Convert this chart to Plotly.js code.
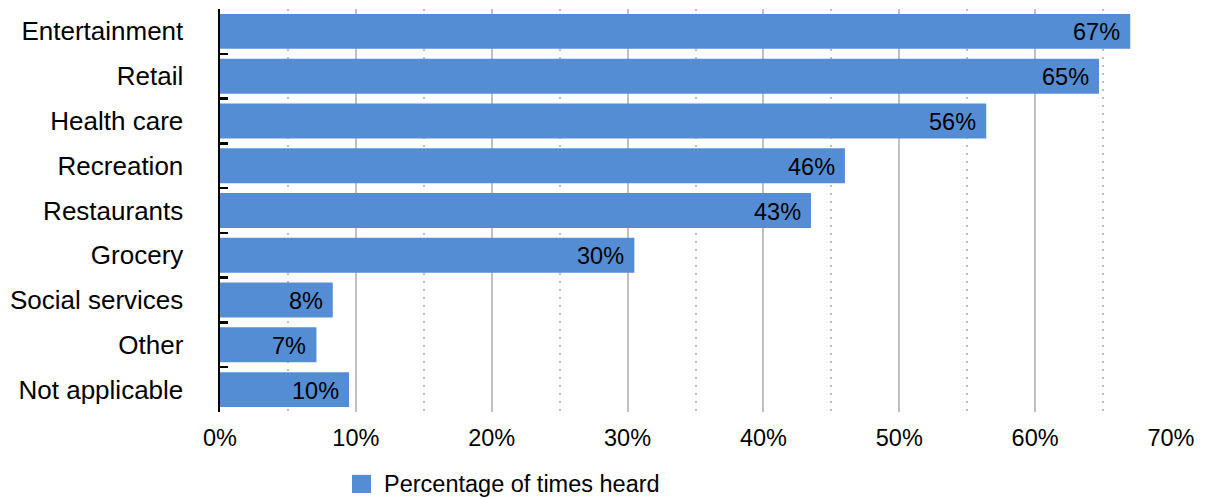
<!DOCTYPE html>
<html>
<head>
<meta charset="utf-8">
<script src="https://cdn.plot.ly/plotly-3.0.1.min.js"></script>
<style>html,body{margin:0;padding:0;background:#fff;}#chart{width:1207px;height:499px;}</style>
</head>
<body>
<div id="chart"></div>
<script>
const categories = ["Entertainment", "Retail", "Health care", "Recreation", "Restaurants", "Grocery", "Social services", "Other", "Not applicable"];
const values = [67.0, 64.7, 56.4, 46.0, 43.5, 30.5, 8.3, 7.1, 9.5];
const valueLabels = ["67%", "65%", "56%", "46%", "43%", "30%", "8%", "7%", "10%"];
const xTickVals = [0, 10, 20, 30, 40, 50, 60, 70];
const xTickText = ["0%", "10%", "20%", "30%", "40%", "50%", "60%", "70%"];
const seriesName = "Percentage of times heard";

const barColor = "#548dd4";
const fontFamily = "'Liberation Sans', Arial, sans-serif";

const trace = {
  type: "bar",
  orientation: "h",
  y: categories,
  x: values,
  name: seriesName,
  marker: {color: barColor, line: {width: 0}},
  showlegend: false,
  hoverinfo: "none"
};

const annotations = categories.map((c, i) => ({
  x: values[i], y: c, xref: "x", yref: "y",
  text: valueLabels[i], showarrow: false,
  xanchor: "right", yanchor: "middle", xshift: -8, yshift: -1,
  font: {family: fontFamily, size: 23.5, color: "#000"}
}));

annotations.push({
  x: 0.170, y: -0.1787, xref: "paper", yref: "paper",
  text: seriesName, showarrow: false,
  xanchor: "left", yanchor: "middle",
  font: {family: fontFamily, size: 23.5, color: "#000"}
});

const layout = {
  width: 1207, height: 499,
  margin: {l: 220, r: 36, t: 9, b: 87, pad: 0},
  paper_bgcolor: "#fff", plot_bgcolor: "#fff",
  font: {family: fontFamily, color: "#000"},
  bargap: 0.22,
  showlegend: false,
  xaxis: {
    range: [0, 70],
    tickvals: xTickVals, ticktext: xTickText,
    showgrid: true, gridcolor: "#c0c0c0", gridwidth: 2,
    minor: {dtick: 5, tick0: 5, showgrid: true, gridcolor: "#bdbdbd", gridwidth: 2, griddash: "2px,6px"},
    zeroline: false, showline: false, ticks: "",
    ticklabelstandoff: 9,
    tickfont: {family: fontFamily, size: 23.5, color: "#000"},
    fixedrange: true
  },
  yaxis: {
    type: "category",
    categoryorder: "array", categoryarray: categories,
    range: [8.5, -0.5],
    showgrid: false, zeroline: false,
    showline: true, linecolor: "#000", linewidth: 2.5,
    ticks: "inside", tickson: "boundaries", ticklen: 8, tickwidth: 2.5, tickcolor: "#000",
    ticklabelstandoff: 29,
    tickfont: {family: fontFamily, size: 26, color: "#000"},
    fixedrange: true
  },
  shapes: [{
    type: "rect", xref: "paper", yref: "paper",
    x0: 0.1388, x1: 0.1588, y0: -0.201, y1: -0.156,
    fillcolor: barColor, line: {width: 0}
  }],
  annotations: annotations
};

Plotly.newPlot("chart", [trace], layout, {displayModeBar: false, staticPlot: true});
</script>
</body>
</html>
